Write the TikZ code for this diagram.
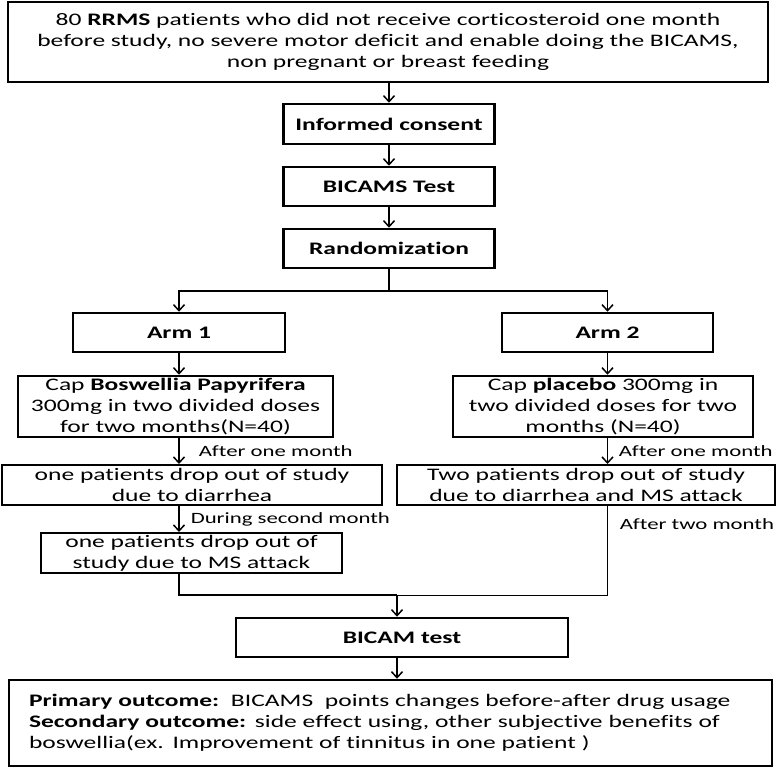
\documentclass[tikz,border=0pt]{standalone}
\usepackage{fontspec}
\setmainfont{Carlito}[FakeStretch=1.45,Ligatures=NoCommon]
\usepackage{tikz}
\usetikzlibrary{arrows.meta}
\usetikzlibrary{positioning}
\tikzstyle{box}=[draw,line width=2.5pt,align=center,inner sep=0pt,font=\fontsize{17.6}{21}\selectfont]

\begin{document}
\begin{tikzpicture}[x=1pt,y=-1pt,line width=1.5pt,>={Straight Barb[length=6pt,width=11pt]}]
\tikzstyle{lbl}=[anchor=west,inner sep=0pt,font=\fontsize{15.7}{19}\selectfont]
\useasboundingbox (0,0) rectangle (778,767);
% screening and run-in
\node [box,minimum width=760pt,minimum height=80pt] (pts) at (388,42)
  {80 \textbf{RRMS} patients who did not receive corticosteroid one month\\
   before study, no severe motor deficit and enable doing the BICAMS,\\
   non pregnant or breast feeding};
\node [box,minimum width=211pt,minimum height=40pt] (cons) at (389,124) {\textbf{Informed consent}};
\node [box,minimum width=211pt,minimum height=39pt] (test) at (389,186.5) {\textbf{BICAMS Test}};
\node [box,minimum width=211pt,minimum height=39pt] (rand) at (389,248.5) {\textbf{Randomization}};
% the two arms
\node [box,minimum width=212pt,minimum height=39pt] (arm1) at (179,332.5) {\textbf{Arm 1}};
\node [box,minimum width=211pt,minimum height=39pt] (arm2) at (607.5,332.5) {\textbf{Arm 2}};
\node [box,minimum width=315pt,minimum height=61pt] (cap1) at (175.5,406.5)
  {Cap \textbf{Boswellia Papyrifera}\\300mg in two divided doses\\for two months(N=40)};
\node [box,minimum width=300pt,minimum height=61pt] (cap2) at (603,406.5)
  {Cap \textbf{placebo} 300mg in\\two divided doses for two\\months (N=40)};
\node [box,line width=2pt,minimum width=380pt,minimum height=40pt] (drop1) at (192,485)
  {one patients drop out of study\\due to diarrhea};
\node [box,line width=2pt,minimum width=378pt,minimum height=40pt] (drop2) at (586,485)
  {Two patients drop out of study\\due to diarrhea and MS attack};
\node [box,line width=2pt,minimum width=301pt,minimum height=40pt] (drop3) at (191.5,553)
  {one patients drop out of\\study due to MS attack};
% labels on the arrows
\node [lbl] (lo1) at (198,451) {After one month};
\node [lbl] (ds) at (190,519) {During second month};
\node [lbl] (lo2) at (618,451) {After one month};
\node [lbl] (atm) at (619,524) {After two month};
% end of study
\node [box,minimum width=332pt,minimum height=39pt] (bicam) at (402,637.5) {\textbf{BICAM test}};
\node [box,align=left,text width=723pt,inner xsep=20pt,minimum height=86pt] (outc) at (390.5,723)
  {\textbf{Primary outcome:}\ \ BICAMS\ \ points changes before-after drug usage\\
   \textbf{Secondary outcome:} side effect using, other subjective benefits of\\
   boswellia(ex. Improvement of tinnitus in one patient )};
\coordinate (split) at (389,291);
\coordinate (mg) at (397,595);
\draw[->] (pts.south -| cons.north) -- (cons.north);
\draw[->] (cons) -- (test);
\draw[->] (test) -- (rand);
\draw (rand.south) -- (split);
\draw[->] (split) -| (arm1.north);
\draw[->] (split) -| (arm2.north);
\draw[->] (arm1.south) -- (arm1.south |- cap1.north);
\draw[->] (arm2.south) -- (arm2.south |- cap2.north);
\draw[->] (cap1.south -| arm1.south) -- (drop1.north -| arm1.south);
\draw[->] (cap2.south -| arm2.south) -- (drop2.north -| arm2.south);
\draw[->] (drop1.south -| arm1.south) -- (drop3.north -| arm1.south);
\draw (drop3.south -| arm1.south) |- (mg);
\draw[line width=0.8pt] (drop2.south -| arm2.south) |- (mg);
\draw[->] (mg) -- (mg |- bicam.north);
\draw[->] (bicam.south -| mg) -- (mg |- outc.north);
\end{tikzpicture}
\end{document}
